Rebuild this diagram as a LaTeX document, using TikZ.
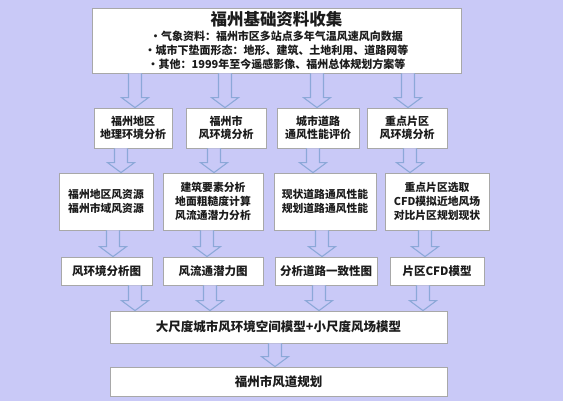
\documentclass[tikz,border=0pt]{standalone}
\usepackage{fontspec}
\setmainfont{Noto Sans CJK SC}
\usetikzlibrary{positioning}

\definecolor{bgpurple}{RGB}{201,201,247}
\definecolor{flowblue}{RGB}{140,168,216}
\definecolor{boxgray}{RGB}{168,168,168}
\definecolor{txtdark}{RGB}{28,28,28}

% hollow block arrow: x, from node, to node
\newcommand{\windflow}[3]{%
  \path (#1,0 |- #2.south) coordinate (ft) (#1,0 |- #3.north) coordinate (fe);
  \draw[flowline] ([xshift=-6.5pt]ft) -- ([xshift=-6.5pt,yshift=10pt]fe) -- ([xshift=-13.5pt,yshift=10pt]fe) --
                  (fe) -- ([xshift=13.5pt,yshift=10pt]fe) -- ([xshift=6.5pt,yshift=10pt]fe) -- ([xshift=6.5pt]ft);}

\begin{document}
\begin{tikzpicture}[x=1pt, y=-1pt,
    box/.style={draw=boxgray, fill=white, line width=0.8pt, inner sep=0pt, align=center, text=txtdark,
                font=\bfseries\fontsize{11}{12.5}\selectfont},
    flowline/.style={draw=flowblue, fill=bgpurple, line width=1.1pt, line join=miter}]
    \fill[bgpurple] (0,0) rectangle (563,401);

    % data collection
    \node[box, minimum width=369pt, minimum height=65pt, font=\bfseries\fontsize{11}{14}\selectfont] (base) at (276.5,40.5)
        {{\fontsize{16.5}{18}\selectfont 福州基础资料收集}\\[1pt]
         •气象资料：福州市区多站点多年气温风速风向数据\\
         •城市下垫面形态：地形、建筑、土地利用、道路网等\\
         •其他：1999年至今遥感影像、福州总体规划方案等};

    % analysis
    \node[box, minimum width=78pt, minimum height=40pt] (geo) at (133,128) {福州地区\\地理环境分析};
    \node[box, minimum width=80pt, minimum height=40pt] (city) at (226,128) {福州市\\风环境分析};
    \node[box, minimum width=82pt, minimum height=40pt] (road) at (318,128) {城市道路\\通风性能评价};
    \node[box, minimum width=80pt, minimum height=40pt] (zone) at (407,128) {重点片区\\风环境分析};

    % methods
    \node[box, minimum width=94pt, minimum height=57pt, font=\bfseries\fontsize{10.8}{14.5}\selectfont] (res) at (106,201.5) {福州地区风资源\\福州市域风资源};
    \node[box, minimum width=100pt, minimum height=57pt, font=\bfseries\fontsize{10.8}{14}\selectfont] (rough) at (213,201.5) {建筑要素分析\\地面粗糙度计算\\风流通潜力分析};
    \node[box, minimum width=102pt, minimum height=57pt, font=\bfseries\fontsize{10.8}{14.5}\selectfont] (vent) at (325,201.5) {现状道路通风性能\\规划道路通风性能};
    \node[box, minimum width=104pt, minimum height=57pt, font=\bfseries\fontsize{10.8}{14}\selectfont] (cfd) at (437,201.5) {重点片区选取\\CFD模拟近地风场\\对比片区规划现状};

    % results
    \node[box, minimum width=91pt, minimum height=28pt, font=\bfseries\fontsize{11.5}{13}\selectfont] (map) at (106.5,271) {风环境分析图};
    \node[box, minimum width=100pt, minimum height=28pt, font=\bfseries\fontsize{11.5}{13}\selectfont] (pot) at (213,271) {风流通潜力图};
    \node[box, minimum width=102pt, minimum height=28pt, font=\bfseries\fontsize{11.5}{13}\selectfont] (cons) at (326,271) {分析道路一致性图};
    \node[box, minimum width=94pt, minimum height=28pt, font=\bfseries\fontsize{11.5}{13}\selectfont] (model) at (437,271) {片区CFD模型};

    \node[box, minimum width=337pt, minimum height=32pt, font=\bfseries\fontsize{12.5}{14}\selectfont] (space) at (278.5,327) {大尺度城市风环境空间模型+小尺度风场模型};
    \node[box, minimum width=337pt, minimum height=29pt, font=\bfseries\fontsize{12.5}{14}\selectfont] (plan) at (278.5,381.5) {福州市风道规划};

    \foreach \x/\a/\b in {135/base/geo, 225/base/city, 317/base/road, 408/base/zone,
                          121/geo/res, 214/city/rough, 313/road/vent, 410/zone/cfd,
                          113/res/map, 207/rough/pot, 322/vent/cons, 425/cfd/model,
                          135/map/space, 210/pot/space, 319/cons/space, 423/model/space,
                          275/space/plan}
        \windflow{\x}{\a}{\b};
\end{tikzpicture}
\end{document}
